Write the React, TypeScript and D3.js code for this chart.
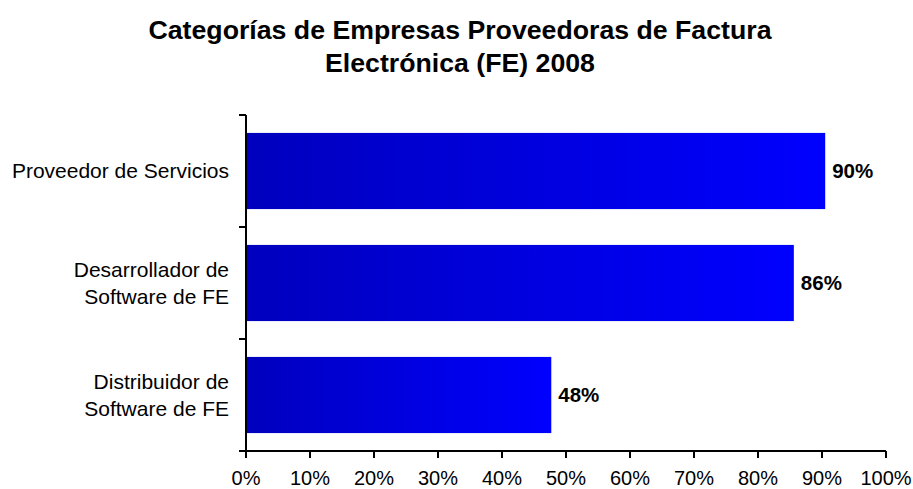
import React from "react";
import * as d3 from "d3";

const titleLines = ["Categorías de Empresas Proveedoras de Factura", "Electrónica (FE) 2008"];
const categories = [
  ["Proveedor de Servicios"],
  ["Desarrollador de", "Software de FE"],
  ["Distribuidor de", "Software de FE"],
];
const values = [90.5, 85.6, 47.7];
const valueLabels = ["90%", "86%", "48%"];
const xTicks = [0, 10, 20, 30, 40, 50, 60, 70, 80, 90, 100];

export default function App() {
  const W = 913, H = 489;
  const left = 246, right = 886, top = 115, bottom = 451;
  const x = d3.scaleLinear().domain([0, 100]).range([left, right]);
  const y = d3.scaleBand<number>().domain(d3.range(categories.length)).range([top, bottom]).paddingInner(0.32).paddingOuter(0.16);
  const font = "Arial, 'Liberation Sans', sans-serif";
  const bandBounds = d3.range(categories.length + 1).map((i) => top + (i * (bottom - top)) / categories.length);
  return (
    <svg width={W} height={H} style={{ position: "absolute", left: 0, top: 0 }} fontFamily={font}>
      <defs>
        <linearGradient id="barGrad" x1="0" x2="1" y1="0" y2="0">
          <stop offset="0%" stopColor="#0000BE" />
          <stop offset="100%" stopColor="#0000FF" />
        </linearGradient>
      </defs>
      {titleLines.map((t, i) => (
        <text key={i} x={460} y={39 + i * 33} textAnchor="middle" fontSize={26.7} fontWeight="bold" fill="#000">
          {t}
        </text>
      ))}
      {values.map((v, i) => (
        <g key={i}>
          <rect x={x(0)} y={y(i)} width={x(v) - x(0)} height={y.bandwidth()} fill="url(#barGrad)" />
          <text x={x(v) + 7} y={(y(i) as number) + y.bandwidth() / 2} dy="0.35em" fontSize={20.5} fontWeight="bold" fill="#000">
            {valueLabels[i]}
          </text>
          {categories[i].map((line, j) => (
            <text
              key={j}
              x={229}
              y={(y(i) as number) + y.bandwidth() / 2 + (j - (categories[i].length - 1) / 2) * 27}
              dy="0.35em"
              textAnchor="end"
              fontSize={21}
              fill="#000"
            >
              {line}
            </text>
          ))}
        </g>
      ))}
      <line x1={left} x2={left} y1={top} y2={bottom} stroke="#000" strokeWidth={2} />
      {bandBounds.map((b, i) => (
        <line key={i} x1={left - 7} x2={left} y1={b} y2={b} stroke="#000" strokeWidth={2} />
      ))}
      <line x1={left - 7} x2={right} y1={bottom} y2={bottom} stroke="#000" strokeWidth={2} />
      {xTicks.map((t) => (
        <g key={t}>
          <line x1={x(t)} x2={x(t)} y1={bottom} y2={bottom + 7} stroke="#000" strokeWidth={2} />
          <text x={x(t)} y={484.5} textAnchor="middle" fontSize={20} fill="#000">
            {t}%
          </text>
        </g>
      ))}
    </svg>
  );
}
